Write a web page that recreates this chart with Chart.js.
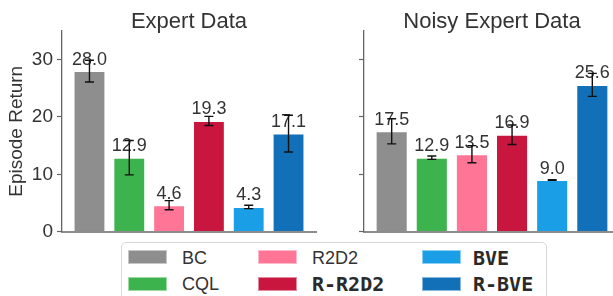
<!DOCTYPE html>
<html>
<head>
<meta charset="utf-8">
<script src="https://cdn.jsdelivr.net/npm/chart.js@4/dist/chart.umd.min.js"></script>
<style>
  html, body { margin:0; padding:0; background:#fff; width:613px; height:296px; overflow:hidden; position:relative; }
  canvas { position:absolute; top:0; }
  #c1 { left:0; }
  #c2 { left:302px; }
  .legend-box { position:absolute; left:121px; top:242px; width:424px; height:70px; border:1px solid #d8d8d8; border-radius:5px; background:#fff; }
  .sw { position:absolute; width:39px; height:14px; box-sizing:border-box; border:1px solid rgba(255,255,255,0.5); }
  .lt { position:absolute; height:22px; line-height:22px; font-family:"Liberation Sans", Arial, sans-serif; font-size:18px; color:#333; white-space:nowrap; }
  .lt.mono { font-family:"DejaVu Sans Mono", monospace; font-weight:bold; font-size:20px; color:#2a2a2a; }
</style>
</head>
<body>
<canvas id="c1" width="320" height="247"></canvas>
<canvas id="c2" width="318" height="247"></canvas>
<div class="legend-box"></div>
<div id="legend"></div>
<script>
// ---- data ----
const methods = ["BC", "CQL", "R2D2", "R-R2D2", "BVE", "R-BVE"];
const colors = ["#8e8e8e", "#3db34d", "#fe7596", "#c8163e", "#1a9ee6", "#1270b8"];
const panelTitles = ["Expert Data", "Noisy Expert Data"];
const expertValues = [28.0, 12.9, 4.6, 19.3, 4.3, 17.1];
const expertErrors = [1.9, 3.0, 0.8, 0.8, 0.3, 3.2];
const noisyValues = [17.5, 12.9, 13.5, 16.9, 9.0, 25.6];
const noisyErrors = [2.2, 0.3, 1.5, 1.7, 0.05, 2.0];
const yTicks = [0, 10, 20, 30];
const yMax = 35;
const boldMethods = ["R-R2D2", "BVE", "R-BVE"];

const FONT = "'Liberation Sans', Arial, sans-serif";
const TEXT = "#333333";

const barDecor = {
  id: 'barDecor',
  afterDatasetsDraw(chart, args, opts) {
    const ctx = chart.ctx;
    const xs = chart.scales.x, ys = chart.scales.y;
    const vals = opts.values, errs = opts.errors;
    ctx.save();
    ctx.font = "18px " + FONT;
    ctx.fillStyle = TEXT;
    ctx.textAlign = 'center';
    ctx.textBaseline = 'alphabetic';
    vals.forEach((v, i) => {
      ctx.fillText(v.toFixed(1), xs.getPixelForValue(i), ys.getPixelForValue(v) - 6.5);
    });
    ctx.strokeStyle = '#111';
    ctx.lineWidth = 1.4;
    vals.forEach((v, i) => {
      const x = xs.getPixelForValue(i);
      const yt = ys.getPixelForValue(v + errs[i]);
      const yb = ys.getPixelForValue(v - errs[i]);
      ctx.beginPath();
      ctx.moveTo(x, yt); ctx.lineTo(x, yb);
      ctx.moveTo(x - 4.5, yt); ctx.lineTo(x + 4.5, yt);
      ctx.moveTo(x - 4.5, yb); ctx.lineTo(x + 4.5, yb);
      ctx.stroke();
    });
    // panel title centred over the plot area
    const ca = chart.chartArea;
    ctx.font = "22px " + FONT;
    ctx.textAlign = 'center';
    ctx.textBaseline = 'alphabetic';
    ctx.fillStyle = TEXT;
    ctx.fillText(opts.title, (ca.left + ca.right) / 2, 27.5);
    ctx.restore();
  }
};

function makeChart(id, title, values, errors, showLabels, padRight) {
  return new Chart(document.getElementById(id), {
    type: 'bar',
    data: {
      datasets: [{
        data: values.map((v, i) => ({ x: i, y: v })),
        backgroundColor: colors,
        borderColor: 'rgba(255,255,255,0.55)',
        borderWidth: 1,
        borderSkipped: 'start',
        categoryPercentage: 1.0,
        barPercentage: 0.8
      }]
    },
    options: {
      responsive: false,
      animation: false,
      devicePixelRatio: 1,
      layout: { padding: { left: 0, right: padRight, top: 31, bottom: 9 } },
      plugins: {
        legend: { display: false },
        tooltip: { enabled: false },
        title: { display: false },
        barDecor: { values: values, errors: errors, title: title }
      },
      scales: {
        x: {
          type: 'linear', min: -0.69, max: 5.69, offset: false,
          grid: { display: false, drawTicks: false },
          ticks: { display: false },
          border: { display: true, color: '#8c8c8c', width: 2 },
          afterFit(s) { s.height = 0; }
        },
        y: {
          min: 0, max: yMax,
          afterBuildTicks(s) { s.ticks = yTicks.map(v => ({ value: v })); },
          afterFit(s) { s.width = 62; },
          grid: { display: true, drawOnChartArea: false, drawTicks: true, tickLength: 5, tickColor: '#666', tickWidth: 1.2 },
          border: { display: true, color: '#666', width: 1.3 },
          ticks: {
            display: true, padding: 4, color: TEXT,
            font: { family: FONT, size: 19 },
            callback: (v) => showLabels ? String(v) : ''
          },
          title: {
            display: showLabels, text: 'Episode Return', color: TEXT,
            font: { family: FONT, size: 19 }, padding: { top: 5, bottom: 0 }
          }
        }
      }
    },
    plugins: [barDecor]
  });
}

makeChart('c1', panelTitles[0], expertValues, expertErrors, true, 4);
makeChart('c2', panelTitles[1], noisyValues, noisyErrors, false, 0);

// ---- HTML legend ----
const colX = [128, 258, 422];
const textX = [182, 312, 473];
const rowY = [250, 277];
const rowMid = [257.5, 284];
const legend = document.getElementById('legend');
methods.forEach((m, i) => {
  const col = Math.floor(i / 2), row = i % 2;
  const sw = document.createElement('div');
  sw.className = 'sw';
  sw.style.left = colX[col] + 'px';
  sw.style.top = rowY[row] + 'px';
  sw.style.background = colors[i];
  legend.appendChild(sw);
  const t = document.createElement('div');
  t.className = 'lt' + (boldMethods.includes(m) ? ' mono' : '');
  t.style.left = textX[col] + 'px';
  t.style.top = (rowMid[row] - 11) + 'px';
  t.textContent = m;
  legend.appendChild(t);
});
</script>
</body>
</html>
